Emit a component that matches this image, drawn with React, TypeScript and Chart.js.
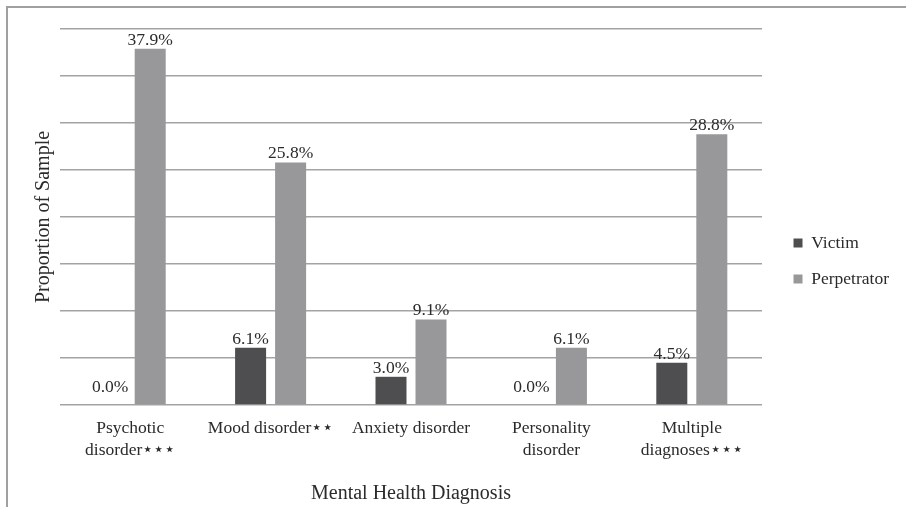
import React, { useEffect, useRef } from "react";
import { Chart, registerables } from "chart.js";

Chart.register(...registerables);

const categories: (string | string[])[] = [
  ["Psychotic", "disorder⋆⋆⋆"],
  "Mood disorder⋆⋆",
  "Anxiety disorder",
  ["Personality", "disorder"],
  ["Multiple", "diagnoses⋆⋆⋆"],
];
const victimValues = [0.0, 6.1, 3.0, 0.0, 4.5];
const perpetratorValues = [37.9, 25.8, 9.1, 6.1, 28.8];
const seriesNames = ["Victim", "Perpetrator"];
const yMax = 40;
const yStep = 5;

const FONT = "'Liberation Serif', 'Times New Roman', serif";
const TEXT = "#2b2b2b";
const GRID = "#a3a3a3";

const valueLabels = {
  id: "valueLabels",
  afterDatasetsDraw(chart: any) {
    const ctx = chart.ctx;
    ctx.save();
    ctx.font = `17.5px ${FONT}`;
    ctx.fillStyle = TEXT;
    ctx.textAlign = "center";
    ctx.textBaseline = "alphabetic";
    chart.data.datasets.forEach((ds: any, i: number) => {
      const meta = chart.getDatasetMeta(i);
      meta.data.forEach((el: any, j: number) => {
        const v = ds.data[j] as number;
        const off = v === 0 ? 13 : 4;
        ctx.fillText(v.toFixed(1) + "%", el.x, el.y - off);
      });
    });
    ctx.restore();
  },
};

export default function App() {
  const ref = useRef<HTMLCanvasElement>(null);
  useEffect(() => {
    if (!ref.current) return;
    const chart = new Chart(ref.current, {
      type: "bar",
      data: {
        labels: categories,
        datasets: [
          {
            label: seriesNames[0],
            data: victimValues,
            backgroundColor: "#4e4e50",
            borderWidth: 0,
            barPercentage: 0.775,
            categoryPercentage: 0.57,
          },
          {
            label: seriesNames[1],
            data: perpetratorValues,
            backgroundColor: "#98989b",
            borderWidth: 0,
            barPercentage: 0.775,
            categoryPercentage: 0.57,
          },
        ],
      },
      options: {
        responsive: false,
        animation: false,
        devicePixelRatio: 1,
        layout: { padding: { left: 28, top: 29, right: 7, bottom: 14 } },
        plugins: {
          legend: {
            position: "right",
            labels: {
              boxWidth: 9,
              boxHeight: 9,
              padding: 18.5,
              color: TEXT,
              font: { family: FONT, size: 17.5 },
            },
          },
          tooltip: { enabled: false },
        },
        scales: {
          x: {
            grid: { display: false, drawTicks: false },
            border: { display: false },
            ticks: {
              color: TEXT,
              padding: 12,
              maxRotation: 0,
              autoSkip: false,
              font: { family: FONT, size: 17.5, lineHeight: 22 / 17.5 },
            },
            title: {
              display: true,
              text: "Mental Health Diagnosis",
              color: TEXT,
              font: { family: FONT, size: 20 },
              padding: { top: 9, bottom: -13 },
            },
          },
          y: {
            min: 0,
            max: yMax,
            ticks: { display: false, stepSize: yStep },
            grid: { color: GRID, lineWidth: 1.5, drawTicks: false },
            border: { display: false },
            title: {
              display: true,
              text: "Proportion of Sample",
              color: TEXT,
              font: { family: FONT, size: 20 },
              padding: { top: 4, bottom: 4 },
            },
          },
          yR: {
            position: "right",
            display: true,
            grid: { display: false, drawTicks: false },
            border: { display: false },
            ticks: { display: false },
            afterFit: (s: any) => {
              s.width = 13;
            },
          },
        },
      },
      plugins: [valueLabels],
    });
    return () => chart.destroy();
  }, []);

  return (
    <>
      <div
        style={{
          position: "fixed",
          left: 6,
          top: 6,
          width: 900,
          height: 501,
          borderTop: "2px solid #a0a0a0",
          borderLeft: "2px solid #a0a0a0",
          boxSizing: "border-box",
        }}
      />
      <div style={{ position: "fixed", left: 0, top: 0, width: 906, height: 507 }}>
        <canvas ref={ref} width={906} height={507} style={{ width: 906, height: 507 }} />
      </div>
    </>
  );
}
